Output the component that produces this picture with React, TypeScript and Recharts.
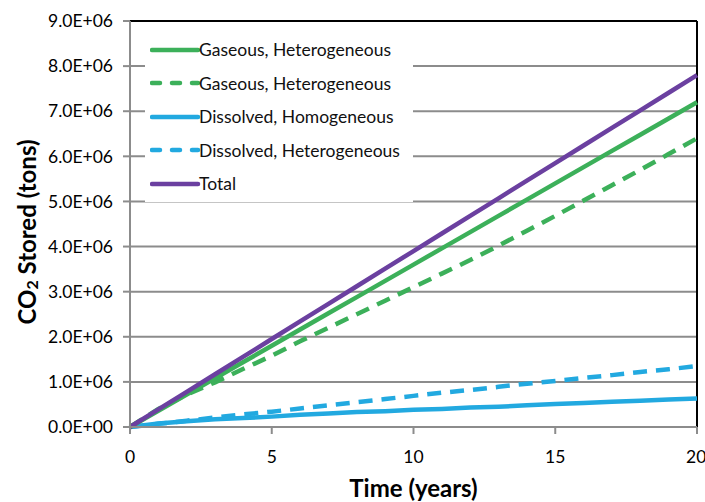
import { LineChart, Line, XAxis, YAxis, CartesianGrid, Legend, ReferenceLine, Label } from "recharts";

// time axis (years)
const years = [0, 1, 2, 3, 4, 5, 6, 7, 8, 9, 10, 11, 12, 13, 14, 15, 16, 17, 18, 19, 20];

// CO2 stored (tons)
const gasHetSolid = [0, 0.36e6, 0.72e6, 1.08e6, 1.44e6, 1.8e6, 2.16e6, 2.52e6, 2.88e6, 3.24e6, 3.6e6, 3.96e6, 4.32e6, 4.68e6, 5.04e6, 5.4e6, 5.76e6, 6.12e6, 6.48e6, 6.84e6, 7.2e6];
const gasHetDashed = [0, 0.4e6, 0.72e6, 0.99e6, 1.29e6, 1.58e6, 1.9e6, 2.2e6, 2.5e6, 2.8e6, 3.1e6, 3.4e6, 3.7e6, 4.02e6, 4.35e6, 4.68e6, 5.02e6, 5.36e6, 5.7e6, 6.05e6, 6.4e6];
const dissHom = [0, 0.08e6, 0.13e6, 0.17e6, 0.2e6, 0.23e6, 0.27e6, 0.3e6, 0.33e6, 0.35e6, 0.38e6, 0.4e6, 0.43e6, 0.45e6, 0.48e6, 0.51e6, 0.53e6, 0.56e6, 0.58e6, 0.61e6, 0.63e6];
const dissHet = [0, 0.07e6, 0.14e6, 0.21e6, 0.28e6, 0.34e6, 0.41e6, 0.48e6, 0.55e6, 0.62e6, 0.69e6, 0.76e6, 0.82e6, 0.89e6, 0.96e6, 1.02e6, 1.09e6, 1.15e6, 1.22e6, 1.28e6, 1.35e6];
const total = [0, 0.39e6, 0.78e6, 1.17e6, 1.56e6, 1.95e6, 2.34e6, 2.73e6, 3.12e6, 3.51e6, 3.9e6, 4.29e6, 4.68e6, 5.07e6, 5.46e6, 5.85e6, 6.24e6, 6.63e6, 7.02e6, 7.41e6, 7.8e6];

const xTicks = [0, 5, 10, 15, 20];
const yTicks = [0, 1e6, 2e6, 3e6, 4e6, 5e6, 6e6, 7e6, 8e6, 9e6];

const GREEN = "#3cb05a";
const BLUE = "#22a9e0";
const PURPLE = "#6b40a0";
const FONT = "Lato, 'Open Sans', sans-serif";

const series = [
  { key: "gasSolid", name: "Gaseous, Heterogeneous", color: GREEN, dash: undefined as string | undefined },
  { key: "gasDashed", name: "Gaseous, Heterogeneous", color: GREEN, dash: "14 9" },
  { key: "dissHom", name: "Dissolved, Homogeneous", color: BLUE, dash: undefined },
  { key: "dissHet", name: "Dissolved, Heterogeneous", color: BLUE, dash: "14 9" },
  { key: "total", name: "Total", color: PURPLE, dash: undefined },
];

const data = years.map((t, i) => ({
  t,
  gasSolid: gasHetSolid[i],
  gasDashed: gasHetDashed[i],
  dissHom: dissHom[i],
  dissHet: dissHet[i],
  total: total[i],
}));

// 9000000 -> "9.0E+06"
function sci(v: number) {
  if (v === 0) return "0.0E+00";
  const exp = Math.floor(Math.log10(Math.abs(v)));
  const mant = v / Math.pow(10, exp);
  return `${mant.toFixed(1)}E+${String(exp).padStart(2, "0")}`;
}

function LegendBox() {
  return (
    <div style={{ background: "#fff", width: 268, padding: "1px 0", fontFamily: FONT }}>
      {series.map((s) => (
        <div key={s.key} style={{ display: "flex", alignItems: "center", height: 33.5 }}>
          <svg width={54} height={10} style={{ marginLeft: 5 }}>
            <line
              x1={2}
              x2={48}
              y1={5}
              y2={5}
              stroke={s.color}
              strokeWidth={4.5}
              strokeLinecap="round"
              strokeDasharray={s.dash ? "8 12" : undefined}
            />
          </svg>
          <span style={{ fontSize: 17.5, color: "#111", marginLeft: -5 }}>{s.name}</span>
        </div>
      ))}
    </div>
  );
}

function YTitle() {
  const cx = 26;
  const cy = 232;
  return (
    <text
      x={cx}
      y={cy}
      transform={`rotate(-90, ${cx}, ${cy})`}
      textAnchor="middle"
      dominantBaseline="central"
      fontFamily={FONT}
      fontWeight={700}
      fontSize={24}
      fill="#000"
    >
      CO<tspan fontSize={16} dy={5}>2</tspan>
      <tspan dy={-5}> Stored (tons)</tspan>
    </text>
  );
}

export default function App() {
  const order = ["dissHet", "dissHom", "gasDashed", "gasSolid", "total"];
  return (
    <div style={{ position: "absolute", left: 0, top: 0, background: "#fff" }}>
      <LineChart width={705} height={502} data={data} margin={{ top: 21, right: 8, bottom: 0, left: 0 }}>
        <CartesianGrid horizontal vertical={false} stroke="#8c8c8c" strokeWidth={2} />
        <XAxis
          dataKey="t"
          type="number"
          domain={[0, 20]}
          ticks={xTicks}
          height={75}
          stroke="#8c8c8c"
          strokeWidth={2}
          tickSize={7}
          tickMargin={17}
          tick={{ fill: "#000", fontSize: 17.5, fontFamily: FONT }}
        >
          <Label
            value="Time (years)"
            position="insideBottom"
            offset={5}
            style={{ fontFamily: FONT, fontWeight: 700, fontSize: 24, fill: "#000" }}
          />
        </XAxis>
        <YAxis
          type="number"
          domain={[0, 9e6]}
          ticks={yTicks}
          width={130}
          stroke="#8c8c8c"
          strokeWidth={2}
          tickSize={7}
          tickMargin={10}
          tickFormatter={sci}
          tick={{ fill: "#000", fontSize: 17.5, fontFamily: FONT }}
        >
          <Label content={YTitle} />
        </YAxis>
        <ReferenceLine y={9e6} stroke="#000" strokeWidth={2} />
        <ReferenceLine x={20} stroke="#000" strokeWidth={2} />
        <Legend
          layout="vertical"
          align="center"
          verticalAlign="middle"
          content={<LegendBox />}
          wrapperStyle={{ left: 145, top: 32, width: 268 }}
        />
        {order.map((k) => {
          const s = series.find((x) => x.key === k)!;
          return (
            <Line
              key={s.key}
              type="linear"
              dataKey={s.key}
              name={s.name}
              stroke={s.color}
              strokeWidth={4.5}
              strokeDasharray={s.dash}
              dot={false}
              activeDot={false}
              isAnimationActive={false}
            />
          );
        })}
      </LineChart>
    </div>
  );
}
